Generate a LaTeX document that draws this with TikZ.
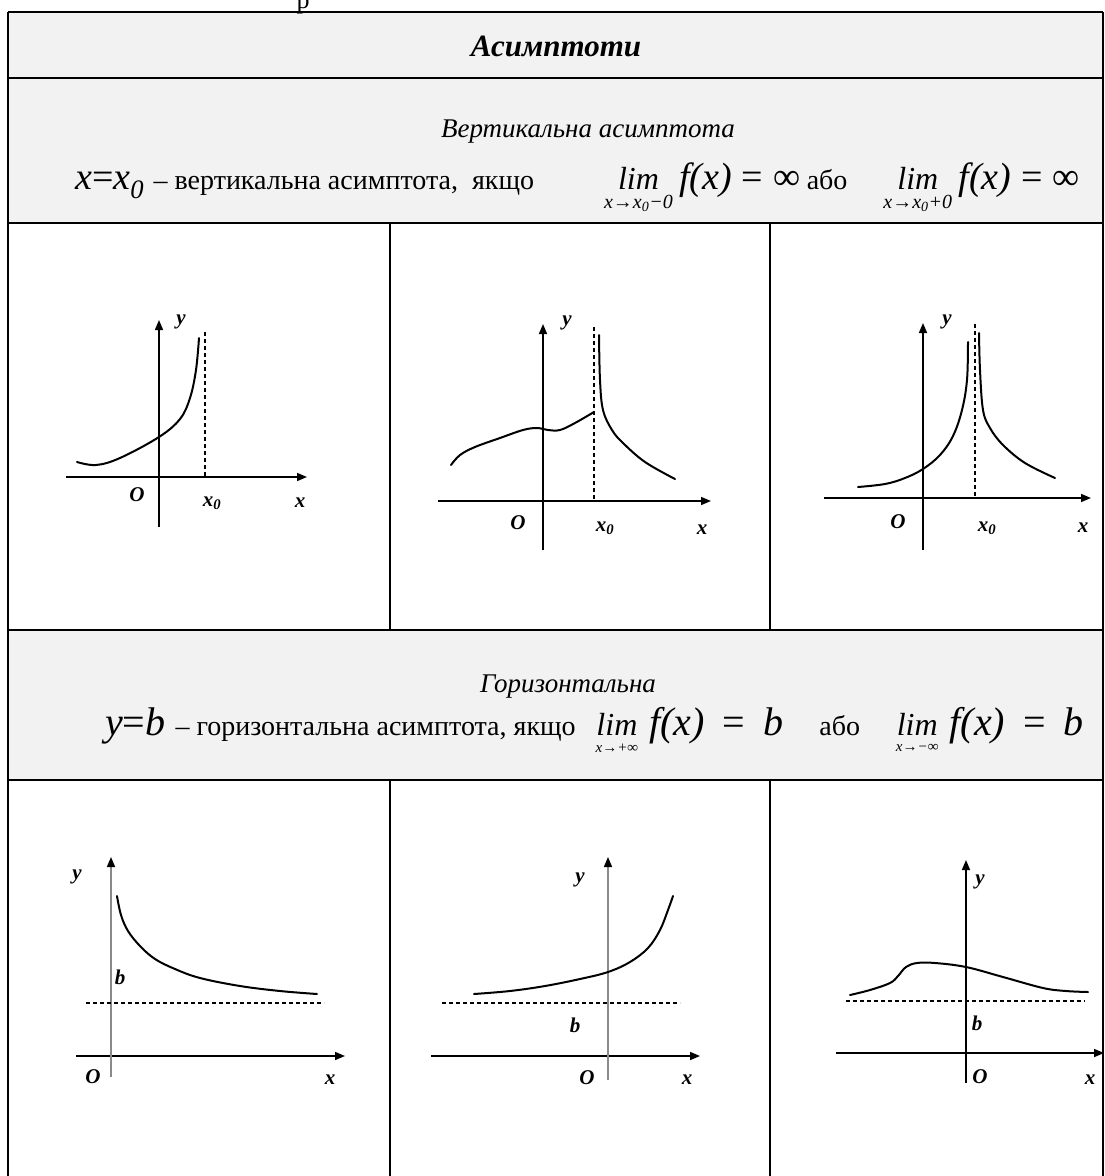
\documentclass[tikz,border=0pt]{standalone}
\usepackage{fontspec}
\setmainfont{Liberation Serif}
\usetikzlibrary{arrows.meta}
\definecolor{CellGray}{HTML}{F2F2F2}
\definecolor{AxisGray}{HTML}{8A8A8A}
\newcommand{\bigf}{\fontsize{38}{38}\selectfont}
\newcommand{\biggf}{\fontsize{40}{40}\selectfont}
\newcommand{\limf}{\fontsize{32}{32}\selectfont}
\newcommand{\midf}{\fontsize{28}{28}\selectfont}
\newcommand{\subf}{\fontsize{20}{20}\selectfont}
\newcommand{\subsmall}{\fontsize{15}{15}\selectfont}
% lim with its condition set below it: #1 font of the condition, #2 gap, #3 condition
\newcommand{\limsub}[3]{\vtop{\offinterlineskip\halign{\hfil##\hfil\cr\limf\itshape lim\cr\noalign{\kern#2}#1\itshape #3\cr}}}
\newcommand{\xnull}{x\textsubscript{0}}

\begin{document}
\begin{tikzpicture}[x=1pt,y=-1pt]
  \tikzset{
    cellgray/.style={fill=CellGray, draw=none},
    tableline/.style={line width=2.6pt},
    axis/.style={line width=1.6pt, -{Triangle[length=10pt,width=8pt]}},
    axisgray/.style={axis, draw=AxisGray, -{Triangle[length=10pt,width=8pt,color=black]}},
    curve/.style={line width=2pt, line cap=round},
    asymline/.style={line width=1.2pt, dash pattern=on 4pt off 3pt},
    headtitle/.style={font=\fontsize{31}{31}\selectfont\bfseries\itshape},
    rowtitle/.style={font=\fontsize{27}{27}\selectfont\itshape},
    axislabel/.style={font=\fontsize{21}{21}\selectfont\bfseries\itshape, inner sep=0pt}
  }
  \useasboundingbox (0,0) rectangle (1104,1176);

  % shaded rows
  \fill[cellgray] (8,12) rectangle (1103,223);
  \fill[cellgray] (8,630) rectangle (1103,780);

  % table rules
  \foreach \yy in {12,78,223,630,780}
    \draw[tableline] (8,\yy) -- (1103,\yy);
  \draw[tableline] (8,12) -- (8,1176);
  \draw[tableline] (1103,12) -- (1103,1176);
  \draw[tableline] (390,223) -- (390,630);
  \draw[tableline] (770,223) -- (770,630);
  \draw[tableline] (390,780) -- (390,1176);
  \draw[tableline] (770,780) -- (770,1176);

  \node[anchor=base, font=\fontsize{26}{26}\selectfont] (topfrag) at (303,8) {р};

  % headings
  \node[headtitle] (title) at (556,46) {Асимптоти};
  \node[rowtitle, anchor=base] (vtitle) at (588,137) {Вертикальна асимптота};
  \node[anchor=base west, inner sep=0pt] (vformula) at (75,189)
    {\bigf\textit{x}=\textit{x}\textsubscript{\textit{0}}\ {\midf – вертикальна асимптота,\ \ якщо}\hspace{70pt}%
     \limsub{\subf}{6pt}{\textit{x}→\textit{x}\textsubscript{0}−\textit{0}}\,\textit{f(x)}\hspace{10pt}=\hspace{10pt}∞\,{\midf або}\hspace{36pt}%
     \limsub{\subf}{6pt}{\textit{x}→\textit{x}\textsubscript{0}+\textit{0}}\,\textit{f(x)}\hspace{10pt}=\hspace{10pt}∞};
  \node[rowtitle, anchor=base] (htitle) at (568,692) {Горизонтальна};
  \node[anchor=base west, inner sep=0pt] (hformula) at (105,735)
    {\biggf\textit{y}=\textit{b}\ {\midf – горизонтальна асимптота, якщо}\ \
     \limsub{\subsmall}{9pt}{\textit{x}→+∞}\;\textit{f(x)}\hspace{18pt}=\hspace{18pt}\textit{b}\hspace{36pt}{\midf або}\hspace{36pt}%
     \limsub{\subsmall}{9pt}{\textit{x}→−∞}\;\textit{f(x)}\hspace{18pt}=\hspace{18pt}\textit{b}};

  % vertical asymptote, left side
  \draw[axis] (66,477) -- (307,477);
  \draw[axis] (159,527) -- (159,320);
  \draw[asymline] (205,332) -- (205,477);
  \draw[curve] plot[smooth, tension=0.6] coordinates
    {(77,462) (96,465) (120,458) (159,437) (180,419) (190,398) (196,370) (199,338)};
  \node[axislabel] (y1) at (181,322) {y};
  \node[axislabel] (o1) at (137,495) {O};
  \node[axislabel] (xa1) at (212,503) {\xnull};
  \node[axislabel] (x1) at (300,503) {x};

  % vertical asymptote, both sides apart
  \draw[axis] (438,501) -- (711,501);
  \draw[axis] (543,550) -- (543,324);
  \draw[asymline] (594,327) -- (594,501);
  \draw[curve] plot[smooth, tension=0.6] coordinates
    {(451,465) (460,455) (475,447) (500,438) (523,430) (537,428) (548,430) (560,430) (575,423) (594,412)};
  \draw[curve] plot[smooth, tension=0.6] coordinates
    {(599,335) (600,380) (603,410) (612,430) (623,443) (645,462) (675,479)};
  \node[axislabel] (y2) at (567,323) {y};
  \node[axislabel] (o2) at (518,523) {O};
  \node[axislabel] (xa2) at (605,528) {\xnull};
  \node[axislabel] (x2) at (702,530) {x};

  % vertical asymptote, both sides up
  \draw[axis] (824,498) -- (1091,498);
  \draw[axis] (923,550) -- (923,323);
  \draw[asymline] (975,324) -- (975,498);
  \draw[curve] plot[smooth, tension=0.6] coordinates
    {(858,487) (885,484) (905,478) (923,469) (940,455) (953,436) (962,410) (967,380) (968,342)};
  \draw[curve] plot[smooth, tension=0.6] coordinates
    {(979,333) (980,370) (983,410) (990,428) (1003,445) (1025,463) (1055,478)};
  \node[axislabel] (y3) at (947,322) {y};
  \node[axislabel] (o3) at (898,522) {O};
  \node[axislabel] (xa3) at (987,528) {\xnull};
  \node[axislabel] (x3) at (1083,528) {x};

  % horizontal asymptote, right branch
  \draw[axis] (76,1056) -- (345,1056);
  \draw[axisgray] (111,1077) -- (111,857);
  \draw[asymline] (86,1003) -- (324,1003);
  \draw[curve] plot[smooth, tension=0.6] coordinates
    {(117,896) (121,915) (128,931) (140,946) (155,959) (175,969) (200,978) (240,986) (280,991) (317,994)};
  \node[axislabel] (y4) at (77,877) {y};
  \node[axislabel] (b4) at (120,977) {b};
  \node[axislabel] (o4) at (93,1077) {O};
  \node[axislabel] (x4) at (330,1080) {x};

  % horizontal asymptote, left branch
  \draw[axis] (431,1056) -- (700,1056);
  \draw[axisgray] (608,1080) -- (608,857);
  \draw[asymline] (442,1003) -- (680,1003);
  \draw[curve] plot[smooth, tension=0.6] coordinates
    {(474,994) (510,991) (545,986) (580,979) (608,972) (630,962) (648,948) (660,930) (668,910) (673,896)};
  \node[axislabel] (y5) at (580,880) {y};
  \node[axislabel] (b5) at (575,1025) {b};
  \node[axislabel] (o5) at (587,1078) {O};
  \node[axislabel] (x5) at (687,1080) {x};

  % horizontal asymptote, both branches
  \draw[axis] (836,1053) -- (1104,1053);
  \draw[axis] (966,1083) -- (966,860);
  \draw[asymline] (846,1001) -- (1085,1001);
  \draw[curve] plot[smooth, tension=0.6] coordinates
    {(850,995) (870,990) (890,983) (898,976) (906,967) (917,963) (935,963) (966,967) (1003,977) (1043,988) (1066,991) (1088,992)};
  \node[axislabel] (y6) at (980,882) {y};
  \node[axislabel] (b6) at (977,1023) {b};
  \node[axislabel] (o6) at (980,1077) {O};
  \node[axislabel] (x6) at (1090,1080) {x};
\end{tikzpicture}
\end{document}
